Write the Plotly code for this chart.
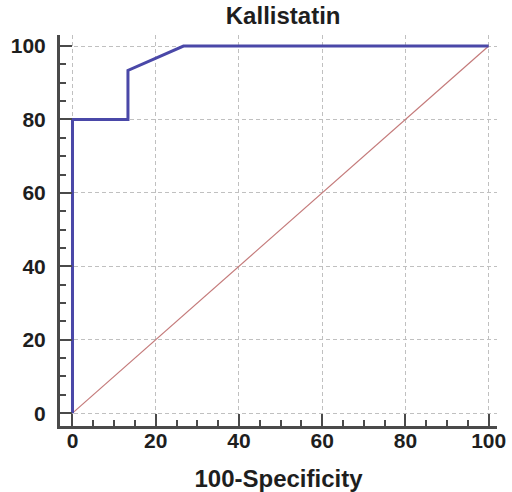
import plotly.graph_objects as go

# ROC curve data
fpr = [0, 0, 13.33, 13.33, 26.67, 100]      # 100-Specificity
tpr = [0, 80, 80, 93.33, 100, 100]          # Sensitivity
diag_x = [0, 100]
diag_y = [0, 100]
tick_vals = [0, 20, 40, 60, 80, 100]
title_text = "Kallistatin"
x_title = "100-Specificity"

FONT = "Liberation Sans, Arial"

fig = go.Figure()
fig.add_trace(go.Scatter(x=diag_x, y=diag_y, mode="lines",
                         line=dict(color="#c47a7a", width=1.2), hoverinfo="skip"))
fig.add_trace(go.Scatter(x=fpr, y=tpr, mode="lines",
                         line=dict(color="#4a48a8", width=3)))

axis_common = dict(
    automargin=False,
    showline=True, linecolor="#4a4a4a", linewidth=3,
    ticks="inside", ticklen=12, tickwidth=2, tickcolor="#4a4a4a",
    tickvals=tick_vals,
    showgrid=True, gridcolor="#c0c0c0", griddash="4px,3px", gridwidth=1,
    zeroline=False,
    tickfont=dict(family=FONT, size=21, color="#1e1e1e", weight="bold"),
    minor=dict(dtick=5, ticks="inside", ticklen=6, tickwidth=1.5, tickcolor="#4a4a4a", showgrid=False),
)

fig.update_layout(
    width=512, height=492,
    margin=dict(l=60, r=15, t=35, b=66),
    paper_bgcolor="white", plot_bgcolor="white",
    showlegend=False,
    title=dict(text=f"<b>{title_text}</b>", x=0.553, xanchor="center", y=0.968, yanchor="middle",
               font=dict(family=FONT, size=24, color="#1e1e1e")),
    xaxis=dict(range=[-3, 102], **axis_common, ticklabelstandoff=-6,
               title=dict(text=f"<b>{x_title}</b>", standoff=33,
                          font=dict(family=FONT, size=24, color="#1e1e1e"))),
    yaxis=dict(range=[-3.5, 103], **axis_common, ticklabelstandoff=7),
)

fig.write_html("out.html")
